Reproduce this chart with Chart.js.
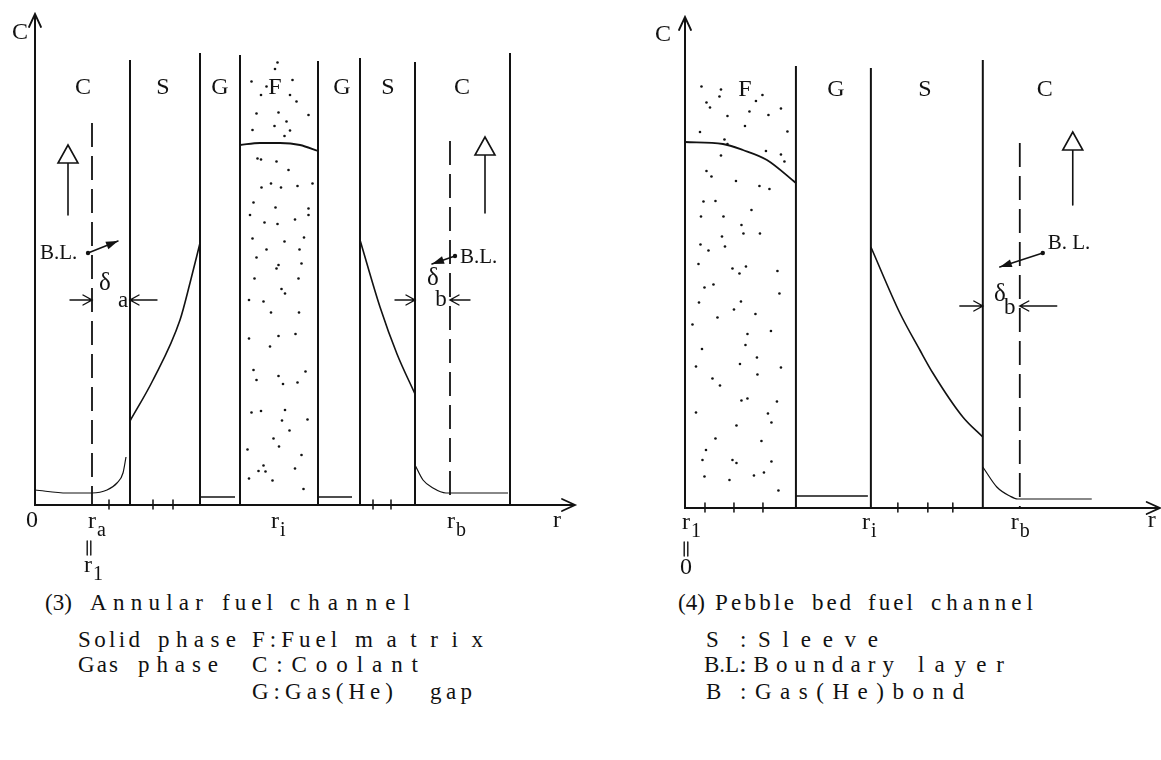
<!DOCTYPE html>
<html>
<head>
<meta charset="utf-8">
<title>Fuel channel concentration profiles</title>
<script src="https://cdn.jsdelivr.net/npm/chart.js@4.4.1/dist/chart.umd.min.js"></script>
<style>
  body { margin: 0; background: #fff; }
  #wrap { position: relative; width: 1161px; height: 760px; overflow: hidden; background: #fff; }
  #wrap canvas { position: absolute; top: 0; }
  #annular { left: 0; }
  #pebble { left: 580px; }
  .cap { position: absolute; font: 23px "Liberation Serif", "DejaVu Serif", serif; line-height: 26px;
         white-space: pre; color: #111; }
</style>
</head>
<body>
<div id="wrap">
  <canvas id="annular" width="580" height="580"></canvas>
  <canvas id="pebble" width="581" height="580"></canvas>
</div>
<script>
const ink = '#121212';
const serif = '"Liberation Serif", "DejaVu Serif", serif';
const C_MAX = 98.2;

// ---------- (3) annular fuel channel ----------
const annRMax = 108;
const annWallR = [19, 33, 41, 56.6, 65, 76, 95];
const annWallTop = [89, 90.4, 90, 88.8, 89.4, 88.6, 90.4];
const annLayerName = ['C', 'S', 'G', 'F', 'G', 'S', 'C'];
const annLayerR = [9.6, 25.6, 37, 48, 61.4, 70.6, 85.4];
const annFuelR = [41, 45, 49, 53, 56.6];
const annFuelC = [72, 72.4, 72.4, 72, 70.8];
const annSleeveInR = [19, 23.6, 29, 31, 33];
const annSleeveInC = [16.8, 25, 37, 44.4, 52.4];
const annSleeveOutR = [65, 69, 72.4, 76];
const annSleeveOutC = [53, 39.6, 30.2, 22.2];
const annCoolInR = [0, 6.4, 11.4, 14.4, 16.4, 17.6, 18.2];
const annCoolInC = [3, 2.4, 2.4, 3, 4.4, 6.4, 9.6];
const annCoolOutR = [76, 77.6, 79.6, 82.2, 94.6];
const annCoolOutC = [8, 5, 3.4, 2.4, 2.4];
const annGapFrom = [33.2, 56.6];
const annGapTo = [40, 63.4];
const annGapC = [1.6, 1.6];
const annEdgeR = [11.4, 83];          // boundary layer edges r_a, r_b
const annEdgeTop = [76.4, 72.8];
const annTickR = [14.8, 23.6, 27.6, 67.6, 71.2];
const annFlowR = [6.6, 90];
const annFlowTail = [58, 58.4];
const annFlowTip = [72, 73.6];
const annDotR = [
  48.5, 48.0, 43.3, 51.5, 46.3, 45.2, 51.0, 52.3, 44.3, 48.7,
  54.7, 50.3, 43.5, 47.9, 51.0, 49.9, 44.5, 45.2, 48.3, 50.7,
  45.3, 47.2, 49.2, 52.5, 55.5, 43.7, 48.1, 54.7, 43.0, 54.7,
  52.0, 45.9, 48.5, 43.5, 49.9, 53.8, 46.3, 52.9, 44.3, 48.7,
  48.3, 53.3, 43.9, 52.7, 49.3, 50.0, 42.8, 45.7, 47.2, 52.8,
  42.8, 48.7, 52.1, 47.0, 43.7, 44.3, 48.7, 54.1, 49.6, 52.5,
  43.3, 45.2, 50.0, 49.4, 54.5, 50.9, 47.7, 48.8, 42.5, 53.3,
  45.7, 44.7, 46.1, 52.0, 42.8, 47.5, 53.7];
const annDotC = [
  88.5, 87.2, 84.7, 85.0, 83.7, 82.0, 82.0, 80.7, 78.3, 78.5,
  78.0, 76.7, 75.0, 75.8, 74.9, 73.8, 69.3, 69.1, 68.7, 67.0,
  63.5, 64.3, 63.5, 63.8, 64.3, 60.5, 59.5, 59.3, 58.0, 58.0,
  57.1, 56.5, 56.2, 53.3, 52.7, 53.5, 51.1, 51.1, 49.5, 48.0,
  47.3, 48.3, 45.3, 45.3, 43.2, 42.3, 41.0, 40.7, 38.5, 38.5,
  33.3, 33.8, 34.2, 31.7, 27.0, 25.0, 25.8, 26.7, 24.2, 24.5,
  18.5, 18.8, 19.0, 16.9, 17.1, 14.9, 13.3, 11.7, 11.1, 10.0,
  7.9, 6.8, 6.7, 7.3, 5.3, 4.9, 3.2];
// [text, subscript, r, c-baseline]
const annAxisLabels = [['0', '', -0.6, -4.4], ['r', 'a', 11.4, -4.6], ['r', 'i', 48, -4.6],
                       ['r', 'b', 83.2, -4.6], ['r', '', 104.4, -4.4], ['r', '1', 10.6, -13.4]];
// "equals" bars set vertically under a label: [r, c]
const annEqualBars = [[10.8, -8.6]];
// [from r, to r, c] – thickness markers
const annDeltaArrows = [[7, 11.4, 41], [24.4, 19, 41], [72, 76, 41], [87, 83, 41]];
// [text, r, c, size, align]
const annNotes = [['C', -3, 94.4, 24, 'center'],
                  ['\u03b4', 14, 44.4, 25, 'center'], ['a', 17.6, 40.8, 23, 'center'],
                  ['\u03b4', 79.6, 45.4, 25, 'center'], ['b', 81.2, 41, 23, 'center'],
                  ['B.L.', 1, 50.4, 21, 'left'], ['B.L.', 85, 49.6, 21, 'left']];
// [from r, from c, to r, to c]
const annBLArrows = [[10.6, 50.4, 16.6, 52.8], [84, 49.8, 79.4, 48.2]];

// ---------- (4) pebble bed fuel channel ----------
const pebRMax = 95;
const pebWallR = [22.2, 37.2, 59.6];
const pebWallTop = [88.4, 88, 89.6];
const pebLayerName = ['F', 'G', 'S', 'C'];
const pebLayerR = [12, 30.2, 48, 72];
const pebFuelR = [0, 7.6, 11.6, 16.4, 22.2];
const pebFuelC = [73.2, 72.8, 71.6, 69.6, 65];
const pebSleeveR = [37.2, 43, 47, 49.6, 55.6, 59.6];
const pebSleeveC = [52.2, 39, 31.6, 27, 18.2, 14.2];
const pebCoolR = [59.6, 62.4, 65, 66.6, 81.4];
const pebCoolC = [8.2, 4.2, 2.4, 1.8, 1.8];
const pebGapFrom = [22.2];
const pebGapTo = [36.6];
const pebGapC = [2.4];
const pebEdgeR = [67];
const pebEdgeTop = [73];
const pebTickR = [4, 9.8, 15.6, 42.6, 48.6, 53.6];
const pebFlowR = [77.6];
const pebFlowTail = [60.6];
const pebFlowTip = [75.2];
const pebDotR = [
  3.3, 7.2, 6.9, 15.5, 14.2, 4.3, 5.0, 12.9, 19.2, 8.5,
  16.7, 12.0, 3.0, 20.5, 7.9, 8.5, 7.2, 16.2, 19.2, 19.9,
  4.3, 5.3, 10.2, 14.9, 16.9, 3.7, 6.1, 13.3, 3.2, 7.7,
  11.3, 11.7, 15.0, 7.4, 3.1, 8.0, 4.7, 2.7, 12.2, 9.5,
  10.9, 18.5, 3.9, 5.7, 18.9, 2.8, 11.2, 9.8, 1.5, 6.5,
  14.1, 12.5, 17.2, 12.1, 3.4, 14.4, 2.2, 11.0, 19.2, 5.5,
  7.0, 14.5, 11.3, 12.5, 18.4, 2.2, 16.6, 17.3, 10.3, 6.1,
  15.3, 4.2, 3.5, 9.5, 10.3, 17.3, 3.9, 8.9, 13.8, 15.8,
  18.7];
const pebDotC = [
  84.3, 83.7, 82.3, 82.6, 81.4, 81.1, 80.1, 79.3, 79.9, 78.4,
  78.6, 76.4, 75.2, 75.3, 73.7, 72.8, 70.5, 71.4, 70.7, 69.3,
  67.4, 66.3, 65.4, 64.4, 63.8, 61.3, 61.4, 59.6, 58.3, 58.3,
  56.6, 54.9, 54.9, 54.3, 52.7, 52.3, 51.5, 48.8, 48.3, 47.9,
  46.9, 47.4, 44.1, 44.7, 42.9, 41.1, 41.3, 39.7, 36.7, 38.1,
  38.8, 34.8, 35.4, 32.6, 31.8, 30.1, 28.3, 28.8, 28.1, 25.9,
  24.5, 26.7, 21.5, 21.9, 21.3, 19.1, 18.9, 17.1, 16.5, 13.9,
  13.4, 11.6, 9.6, 9.6, 9.0, 9.3, 6.3, 5.6, 6.5, 7.1,
  3.5];
const pebAxisLabels = [['r', '1', 0.2, -4.2], ['r', 'i', 36.2, -4.2], ['r', 'b', 66, -4.2],
                       ['r', '', 93.4, -3.8], ['0', '', 0.2, -13.2]];
const pebEqualBars = [[0.2, -8.2]];
const pebDeltaArrows = [[55, 59.6, 40.4], [74.4, 67, 40.4]];
const pebNotes = [['C', -4.4, 94.6, 24, 'center'],
                  ['\u03b4', 63, 42.8, 25, 'center'], ['b', 65, 40, 23, 'center'],
                  ['B. L.', 72.6, 53, 21, 'left']];
const pebBLArrows = [[71.6, 51, 63, 48.2]];

// ---------- captions: [text, left, right, centre y] ----------
const captionWords = [
  ['(3)', 45, 70, 603], ['Annular', 90, 203, 603], ['fuel', 222, 273, 603], ['channel', 290, 410, 603],
  ['Solid', 78, 140, 640], ['phase', 158, 236, 640], ['F:Fuel', 252, 337, 640], ['matrix', 355, 483, 640],
  ['Gas', 78, 118, 665], ['phase', 138, 218, 665], ['C:Coolant', 252, 418, 665],
  ['G:Gas(He)', 252, 393, 692], ['gap', 430, 472, 692],
  ['(4)', 678, 700, 603], ['Pebble', 715, 794, 603], ['bed', 812, 851, 603], ['fuel', 868, 913, 603], ['channel', 931, 1033, 603],
  ['S', 706, 718, 640], [':Sleeve', 740, 878, 640],
  ['B.L.', 704, 734, 665], [':Boundary', 740, 894, 665], ['layer', 918, 1004, 665],
  ['B', 706, 718, 692], [':Gas(He)bond', 740, 964, 692]
];

function pts(xs, ys) { return xs.map((x, i) => ({ x: x, y: ys[i] })); }

function curve(xs, ys, width) {
  return { data: pts(xs, ys), borderColor: ink, borderWidth: width, pointRadius: 0,
           cubicInterpolationMode: 'monotone', fill: false, clip: false };
}

function straight(data, width, dash) {
  return { data: data, borderColor: ink, borderWidth: width, borderDash: dash || [],
           pointRadius: 0, tension: 0, fill: false, clip: false };
}

function dots(xs, ys) {
  return { data: pts(xs, ys), showLine: false, pointRadius: 1.3, pointHoverRadius: 1.3,
           pointBackgroundColor: ink, pointBorderWidth: 0, clip: false };
}

function channelDatasets(s) {
  const sets = [straight([{ x: 0, y: C_MAX }, { x: 0, y: 0 }, { x: s.rMax, y: 0 }], 2)];
  s.wallR.forEach((r, i) => sets.push(straight([{ x: r, y: 0 }, { x: r, y: s.wallTop[i] }], 2)));
  s.edgeR.forEach((r, i) => sets.push(straight([{ x: r, y: s.edgeTop[i] }, { x: r, y: 0 }], 1.8, [24, 9])));
  s.gapFrom.forEach((r, i) => sets.push(straight([{ x: r, y: s.gapC[i] }, { x: s.gapTo[i], y: s.gapC[i] }], 1.3)));
  s.curves.forEach(c => sets.push(curve(c[0], c[1], c[2])));
  sets.push(dots(s.dotR, s.dotC));
  return sets;
}

function drawText(ctx, text, x, y, size, align, baseline) {
  ctx.font = size + 'px ' + serif;
  ctx.textAlign = align;
  ctx.textBaseline = baseline;
  ctx.fillText(text, x, y);
}

// axes arrows, ticks, layer names, flow arrows and labels
function overlay(s) {
  return {
    id: 'overlay',
    afterDatasetsDraw(chart) {
      const ctx = chart.ctx;
      const X = v => chart.scales.x.getPixelForValue(v);
      const Y = v => chart.scales.y.getPixelForValue(v);
      ctx.save();
      ctx.strokeStyle = ink;
      ctx.fillStyle = ink;
      ctx.lineCap = 'round';

      // axis arrow heads
      ctx.lineWidth = 1.8;
      const ox = X(0), top = Y(C_MAX), oy = Y(0), end = X(s.rMax);
      ctx.beginPath();
      ctx.moveTo(ox - 6, top + 13); ctx.lineTo(ox, top); ctx.lineTo(ox + 6, top + 13);
      ctx.moveTo(end - 13, oy - 6); ctx.lineTo(end, oy); ctx.lineTo(end - 13, oy + 6);
      ctx.stroke();

      // small ticks on r axis
      ctx.lineWidth = 1.5;
      ctx.beginPath();
      s.tickR.forEach(r => { ctx.moveTo(X(r), oy - 5); ctx.lineTo(X(r), oy + 4); });
      ctx.stroke();

      // double bars meaning "equals" below a label
      ctx.lineWidth = 1.4;
      ctx.beginPath();
      s.equalBars.forEach(b => {
        const x = X(b[0]), y = Y(b[1]);
        ctx.moveTo(x - 1.8, y - 7); ctx.lineTo(x - 1.8, y + 7);
        ctx.moveTo(x + 1.8, y - 7); ctx.lineTo(x + 1.8, y + 7);
      });
      ctx.stroke();

      // layer names
      s.layerName.forEach((t, i) => drawText(ctx, t, X(s.layerR[i]), Y(s.layerC), 24, 'center', 'middle'));

      // coolant flow direction
      ctx.lineWidth = 1.6;
      s.flowR.forEach((r, i) => {
        const x = X(r), tip = Y(s.flowTip[i]), base = tip + 18;
        ctx.beginPath();
        ctx.moveTo(x, Y(s.flowTail[i])); ctx.lineTo(x, base);
        ctx.moveTo(x, tip); ctx.lineTo(x - 10, base); ctx.lineTo(x + 10, base); ctx.closePath();
        ctx.stroke();
      });

      // boundary layer thickness arrows
      ctx.lineWidth = 1.4;
      s.deltaArrows.forEach(a => {
        const x0 = X(a[0]), x1 = X(a[1]), y = Y(a[2]), d = Math.sign(x1 - x0);
        ctx.beginPath();
        ctx.moveTo(x0, y); ctx.lineTo(x1, y);
        ctx.moveTo(x1 - d * 9, y - 5); ctx.lineTo(x1, y); ctx.lineTo(x1 - d * 9, y + 5);
        ctx.stroke();
      });

      // B.L. pointers
      s.blArrows.forEach(a => {
        const x0 = X(a[0]), y0 = Y(a[1]), x1 = X(a[2]), y1 = Y(a[3]);
        const ang = Math.atan2(y1 - y0, x1 - x0);
        ctx.lineWidth = 1.5;
        ctx.beginPath(); ctx.moveTo(x0, y0); ctx.lineTo(x1, y1); ctx.stroke();
        ctx.beginPath();
        ctx.moveTo(x1, y1);
        ctx.lineTo(x1 - 12 * Math.cos(ang) + 4 * Math.sin(ang), y1 - 12 * Math.sin(ang) - 4 * Math.cos(ang));
        ctx.lineTo(x1 - 12 * Math.cos(ang) - 4 * Math.sin(ang), y1 - 12 * Math.sin(ang) + 4 * Math.cos(ang));
        ctx.closePath(); ctx.fill();
        ctx.beginPath(); ctx.arc(x0, y0, 2.2, 0, Math.PI * 2); ctx.fill();
      });

      // r-axis labels with subscripts
      s.axisLabels.forEach(l => {
        const x = X(l[2]), y = Y(l[3]);
        ctx.font = '24px ' + serif;
        const w = ctx.measureText(l[0]).width;
        drawText(ctx, l[0], x, y, 24, 'center', 'alphabetic');
        if (l[1]) drawText(ctx, l[1], x + w / 2 + 1, y + 8, 20, 'left', 'alphabetic');
      });

      // free notes
      s.notes.forEach(n => drawText(ctx, n[0], X(n[1]), Y(n[2]), n[3], n[4], 'middle'));
      ctx.restore();
    }
  };
}

function buildChannel(id, s, padding) {
  return new Chart(document.getElementById(id), {
    type: 'line',
    data: { datasets: channelDatasets(s) },
    options: {
      responsive: false,
      animation: false,
      events: [],
      layout: { padding: padding },
      scales: {
        x: { type: 'linear', min: 0, max: s.rMax, display: false },
        y: { type: 'linear', min: 0, max: C_MAX, display: false }
      },
      plugins: { legend: { display: false }, tooltip: { enabled: false } }
    },
    plugins: [overlay(s)]
  });
}

buildChannel('annular', {
  rMax: annRMax, wallR: annWallR, wallTop: annWallTop, edgeR: annEdgeR, edgeTop: annEdgeTop,
  gapFrom: annGapFrom, gapTo: annGapTo, gapC: annGapC,
  curves: [[annFuelR, annFuelC, 1.8], [annSleeveInR, annSleeveInC, 1.6], [annSleeveOutR, annSleeveOutC, 1.6],
           [annCoolInR, annCoolInC, 1.2], [annCoolOutR, annCoolOutC, 1.2]],
  dotR: annDotR, dotC: annDotC, tickR: annTickR, equalBars: annEqualBars,
  layerName: annLayerName, layerR: annLayerR, layerC: 83.4,
  flowR: annFlowR, flowTail: annFlowTail, flowTip: annFlowTip,
  deltaArrows: annDeltaArrows, blArrows: annBLArrows, axisLabels: annAxisLabels, notes: annNotes
}, { left: 35, top: 14, right: 5, bottom: 75 });

buildChannel('pebble', {
  rMax: pebRMax, wallR: pebWallR, wallTop: pebWallTop, edgeR: pebEdgeR, edgeTop: pebEdgeTop,
  gapFrom: pebGapFrom, gapTo: pebGapTo, gapC: pebGapC,
  curves: [[pebFuelR, pebFuelC, 1.8], [pebSleeveR, pebSleeveC, 1.6], [pebCoolR, pebCoolC, 1.2]],
  dotR: pebDotR, dotC: pebDotC, tickR: pebTickR, equalBars: pebEqualBars,
  layerName: pebLayerName, layerR: pebLayerR, layerC: 83.6,
  flowR: pebFlowR, flowTail: pebFlowTail, flowTip: pebFlowTip,
  deltaArrows: pebDeltaArrows, blArrows: pebBLArrows, axisLabels: pebAxisLabels, notes: pebNotes
}, { left: 105, top: 17, right: 1, bottom: 72 });

// captions, each word spread to its own width
const wrap = document.getElementById('wrap');
const meter = document.createElement('canvas').getContext('2d');
meter.font = '23px ' + serif;
captionWords.forEach(w => {
  const span = document.createElement('span');
  span.className = 'cap';
  span.textContent = w[0];
  const natural = meter.measureText(w[0]).width;
  const n = w[0].length;
  const spacing = n > 1 ? Math.max(0, (w[2] - w[1] - natural) / (n - 1)) : 0;
  span.style.letterSpacing = spacing.toFixed(2) + 'px';
  span.style.left = w[1] + 'px';
  span.style.top = (w[3] - 13) + 'px';
  wrap.appendChild(span);
});
</script>
</body>
</html>
